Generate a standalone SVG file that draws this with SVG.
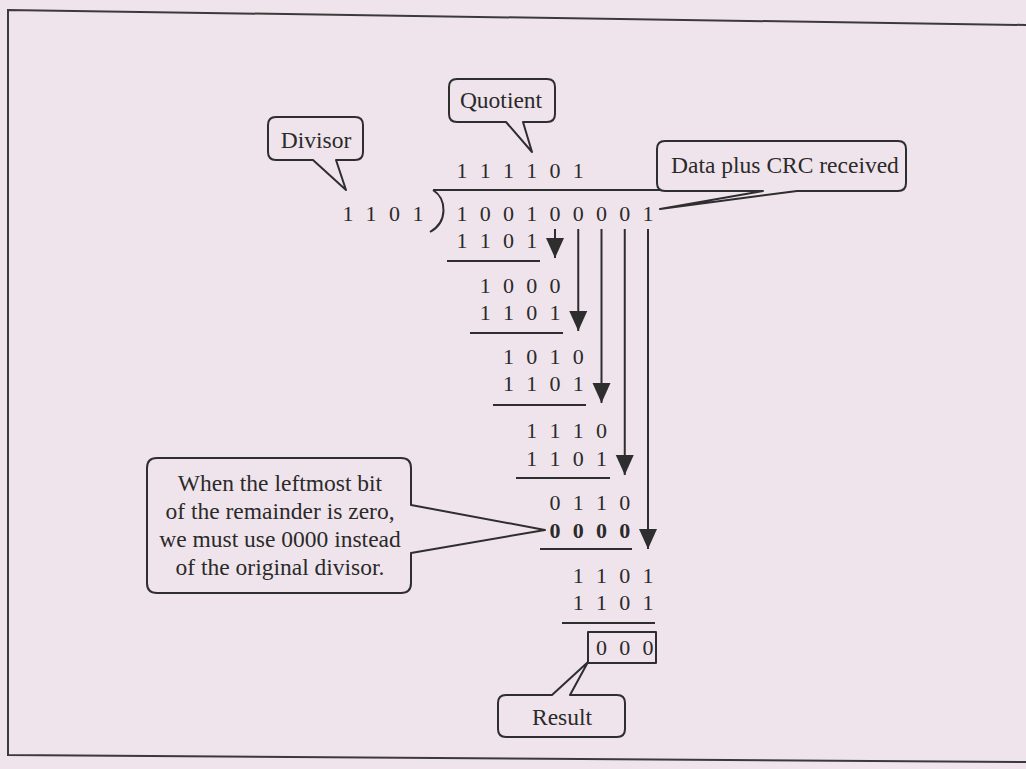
<svg xmlns="http://www.w3.org/2000/svg" width="1026" height="769" viewBox="0 0 1026 769">
<defs>
<style>
.bg{fill:#f0e4ec}
.frame{fill:none;stroke:#3a3a3a;stroke-width:2}
.call{fill:none;stroke:#2e2e2e;stroke-width:2;stroke-linejoin:round}
.lbl{font-family:"Liberation Serif","Times New Roman",serif;font-size:23.5px;fill:#2a2a2a;text-anchor:middle}
.dig{font-family:"Liberation Serif","Times New Roman",serif;font-size:22px;fill:#2a2a2a;text-anchor:middle}
.bold{font-weight:bold}
.rule{stroke:#2e2e2e;stroke-width:2}
.arr{stroke:#2e2e2e;stroke-width:2;fill:none}
</style>
<marker id="ah" markerUnits="userSpaceOnUse" markerWidth="20" markerHeight="20" refX="20" refY="9" orient="auto" viewBox="0 0 20 18">
<path d="M0,0 L20,9 L0,18 Z" fill="#2e2e2e"/>
</marker>
</defs>
<rect class="bg" x="0" y="0" width="1026" height="769"/>
<polyline class="frame" points="1026,25 8,10 8,755 1026,762"/>

<g id="divisor-callout">
<path class="call" d="M276,117 H355 Q363,117 363,125 V152 Q363,160 355,160 H336 L346,190 L313,160 H276 Q268,160 268,152 V125 Q268,117 276,117 Z"/>
<text class="lbl" x="316" y="148">Divisor</text>
</g>
<g id="quotient-callout">
<path class="call" d="M457,79 H547 Q555,79 555,87 V114 Q555,122 547,122 H523 L532,152 L506,122 H457 Q449,122 449,114 V87 Q449,79 457,79 Z"/>
<text class="lbl" x="501" y="108">Quotient</text>
</g>
<g id="data-callout">
<path class="call" d="M665,141 H898 Q906,141 906,149 V183 Q906,191 898,191 H797 L660,209 L763,191 H665 Q657,191 657,183 V149 Q657,141 665,141 Z"/>
<text class="lbl" x="785" y="173">Data plus CRC received</text>
</g>
<g id="note-callout">
<path class="call" d="M157,458 H401 Q411,458 411,468 V505 L545,530 L411,553 V583 Q411,593 401,593 H157 Q147,593 147,583 V468 Q147,458 157,458 Z"/>
<text class="lbl" x="280" y="491">When the leftmost bit</text>
<text class="lbl" x="280" y="519">of the remainder is zero,</text>
<text class="lbl" x="280" y="547">we must use 0000 instead</text>
<text class="lbl" x="280" y="575">of the original divisor.</text>
</g>
<g id="result-callout">
<path class="call" d="M506,695 H552 L588,662 L570,695 H617 Q625,695 625,703 V729 Q625,737 617,737 H506 Q498,737 498,729 V703 Q498,695 506,695 Z"/>
<text class="lbl" x="562" y="725">Result</text>
</g>

<g id="division">
<text class="dig" x="462 485.25 508.5 531.75 555 578.25" y="178">111101</text>
<text class="dig" x="348 371 394.5 418" y="221">1101</text>
<path class="arr" d="M433,190 C447,199 448,222 430,232"/>
<line class="rule" x1="433" y1="190" x2="660" y2="190"/>
<text class="dig" x="462 485.25 508.5 531.75 555 578.25 601.5 624.75 648" y="221">100100001</text>
<text class="dig" x="462 485.25 508.5 531.75" y="248">1101</text>
<line class="rule" x1="447" y1="261" x2="540" y2="261"/>
<text class="dig" x="485.25 508.5 531.75 555" y="293">1000</text>
<text class="dig" x="485.25 508.5 531.75 555" y="320">1101</text>
<line class="rule" x1="470" y1="333" x2="563" y2="333"/>
<text class="dig" x="508.5 531.75 555 578.25" y="364">1010</text>
<text class="dig" x="508.5 531.75 555 578.25" y="391">1101</text>
<line class="rule" x1="493" y1="405" x2="586" y2="405"/>
<text class="dig" x="531.75 555 578.25 601.5" y="438">1110</text>
<text class="dig" x="531.75 555 578.25 601.5" y="466">1101</text>
<line class="rule" x1="516" y1="478" x2="610" y2="478"/>
<text class="dig" x="555 578.25 601.5 624.75" y="510">0110</text>
<text class="dig bold" x="555 578.25 601.5 624.75" y="538">0000</text>
<line class="rule" x1="540" y1="549" x2="632" y2="549"/>
<text class="dig" x="578.25 601.5 624.75 648" y="583">1101</text>
<text class="dig" x="578.25 601.5 624.75 648" y="610">1101</text>
<line class="rule" x1="562" y1="623" x2="655" y2="623"/>
<rect class="call" x="588" y="632" width="68" height="31"/>
<text class="dig" x="601.5 624.75 648" y="655">000</text>
</g>

<g id="connectors">
<line class="arr" x1="555" y1="229" x2="555" y2="258" marker-end="url(#ah)"/>
<line class="arr" x1="578.25" y1="229" x2="578.25" y2="331" marker-end="url(#ah)"/>
<line class="arr" x1="601.5" y1="229" x2="601.5" y2="403" marker-end="url(#ah)"/>
<line class="arr" x1="624.75" y1="229" x2="624.75" y2="475" marker-end="url(#ah)"/>
<line class="arr" x1="648" y1="229" x2="648" y2="549" marker-end="url(#ah)"/>
</g>
</svg>
